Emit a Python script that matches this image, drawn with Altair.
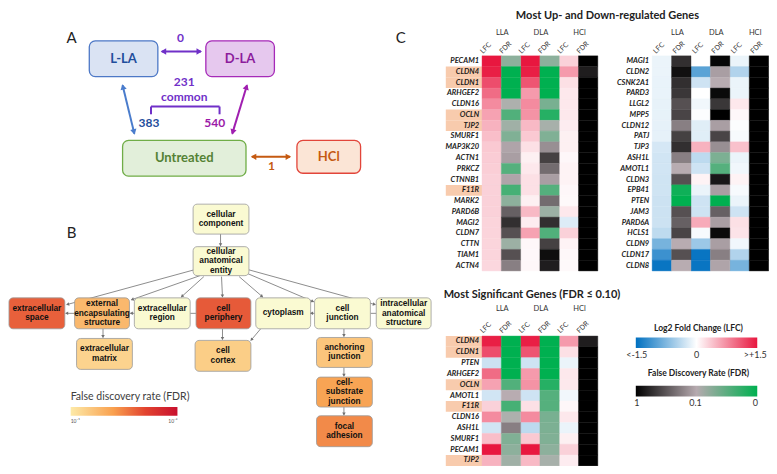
import math
import altair as alt
import pandas as pd

# ============================ DATA ============================
# Panel A: numbers of differentially expressed genes between conditions
A_NODES = ["L-LA", "D-LA", "Untreated", "HCl"]
DEG_LLA_DLA = 0
DEG_COMMON = 231
DEG_LLA_UNTREATED = 383
DEG_DLA_UNTREATED = 540
DEG_UNTREATED_HCL = 1

# Panel B: GO cellular-component terms, enrichment as -log10(FDR) (0 = not enriched)
GO_TERMS = ["cellular\ncomponent", "cellular\nanatomical\nentity", "extracellular\nspace",
            "external\nencapsulating\nstructure", "extracellular\nregion", "cell\nperiphery",
            "cytoplasm", "cell\njunction", "intracellular\nanatomical\nstructure",
            "extracellular\nmatrix", "cell\ncortex", "anchoring\njunction",
            "cell-\nsubstrate\njunction", "focal\nadhesion"]
GO_NEGLOG_FDR = [0, 0, 4.0, 2.35, 0, 4.1, 0, 0, 0, 1.6, 1.75, 2.0, 2.9, 3.35]
GO_LEGEND_TITLE = "False discovery rate (FDR)"
GO_LEGEND_LABELS = ["10⁻¹", "10⁻⁶"]

# Panel C: log2 fold change and FDR per gene and treatment
C_GROUPS = ["LLA", "DLA", "HCl"]
C_COLUMNS = ["LFC", "FDR", "LFC", "FDR", "LFC", "FDR"]
GENES = ["PECAM1", "CLDN4", "CLDN1", "ARHGEF2", "CLDN16", "OCLN", "TJP2", "SMURF1", "MAP3K20", "ACTN1",
         "PRKCZ", "CTNNB1", "F11R", "MARK2", "PARD6B", "MAGI2", "CLDN7", "CTTN", "TIAM1", "ACTN4",
         "MAGI1", "CLDN2", "CSNK2A1", "PARD3", "LLGL2", "MPP5", "CLDN12", "PATJ", "TJP3", "ASH1L",
         "AMOTL1", "CLDN3", "EPB41", "PTEN", "JAM3", "PARD6A", "HCLS1", "CLDN9", "CLDN17", "CLDN8"]
LLA_LFC = [1.5, 1.45, 1.15, 0.95, 0.75, 0.6, 0.5, 0.42, 0.35, 0.33,
           0.32, 0.3, 0.3, 0.3, 0.3, 0.28, 0.28, 0.27, 0.27, 0.26,
           -0.12, -0.12, -0.13, -0.13, -0.14, -0.14, -0.15, -0.15, -0.25, -0.27,
           -0.27, -0.28, -0.28, -0.3, -0.3, -0.3, -0.38, -0.8, -1.15, -1.45]
LLA_FDR = [0.075, 0.0, 0.0, 0.0, 0.092, 0.043, 0.085, 0.068, 0.16, 0.19,
           0.045, 0.16, 0.037, 0.075, 0.51, 0.76, 0.59, 0.083, 0.59, 0.35,
           0.76, 0.92, 0.76, 0.72, 0.59, 0.65, 0.35, 0.67, 0.76, 0.35,
           0.12, 0.59, 0.008, 0.0, 0.59, 0.51, 0.65, 0.12, 0.59, 0.12]
DLA_LFC = [1.5, 1.45, 1.1, 0.65, 0.75, 0.7, 0.45, 0.35, 0.2, 0.1,
           0.15, 0.2, 0.2, 0.1, 0.45, 0.12, 0.6, 0.05, 0.05, 0.05,
           0.0, -0.97, -0.29, 0.0, -0.08, -0.02, -0.18, -0.18, 0.5, -0.39,
           -0.29, 0.08, -0.12, -0.29, -0.29, 0.55, -0.05, -0.58, -1.45, -1.45]
DLA_FDR = [0.075, 0.0, 0.0, 0.0, 0.064, 0.02, 0.089, 0.068, 0.27, 0.67,
           0.45, 0.19, 0.045, 0.45, 0.083, 0.76, 0.043, 0.67, 0.93, 0.85,
           0.97, 0.19, 0.12, 0.95, 0.72, 1.0, 0.19, 0.65, 0.27, 0.066,
           0.045, 0.88, 0.19, 0.0, 0.51, 0.19, 0.95, 0.19, 0.35, 0.16]
HCL_LFC = [0.3, 0.65, 0.2, 0.15, 0.15, 0.15, 0.12, 0.1, 0.1, 0.05,
           0.08, 0.08, 0.05, 0.04, 0.15, -0.2, 0.3, 0.08, 0.05, 0.04,
           -0.12, -0.46, -0.12, -0.12, 0.15, 0.05, -0.02, -0.05, 0.4, -0.12,
           -0.08, 0.08, -0.05, -0.12, -0.29, 0.2, 0.18, -0.08, -0.46, -0.8]
HCL_FDR = [1, 0.85, 1, 1, 1, 1, 1, 1, 1, 1, 1, 1, 1, 1, 1, 1, 1, 1, 1, 1,
           1, 1, 1, 1, 1, 1, 1, 1, 1, 1, 1, 1, 1, 1, 1, 1, 1, 1, 1, 1]
GENES_UP = GENES[:20]
GENES_DOWN = GENES[20:]
GENES_SIG = ["CLDN4", "CLDN1", "PTEN", "ARHGEF2", "OCLN", "AMOTL1", "F11R", "CLDN16",
             "ASH1L", "SMURF1", "PECAM1", "TJP2"]
HIGHLIGHTED = ["CLDN4", "CLDN1", "OCLN", "TJP2", "F11R"]
TITLE_UPDOWN = "Most Up- and Down-regulated Genes"
TITLE_SIG = "Most Significant Genes (FDR ≤ 0.10)"
LFC_LEGEND_TITLE = "Log2 Fold Change (LFC)"
LFC_LEGEND_LABELS = ["<-1.5", "0", ">+1.5"]
FDR_LEGEND_TITLE = "False Discovery Rate (FDR)"
FDR_LEGEND_LABELS = ["1", "0.1", "0"]

# ============================ LAYOUT (pixel frame of the figure) ============================
FONT = "Lato"
FONT_B = "Liberation Sans"
XS = alt.Scale(domain=[0, 777], nice=False, zero=False)
YS = alt.Scale(domain=[0, 474], nice=False, zero=False, reverse=True)


def pos(**kw):
    return dict(x=alt.X("x:Q", scale=XS, axis=None), y=alt.Y("y:Q", scale=YS, axis=None), **kw)


def span(**kw):
    return dict(x=alt.X("x:Q", scale=XS, axis=None), x2=alt.X2("x2:Q"),
                y=alt.Y("y:Q", scale=YS, axis=None), y2=alt.Y2("y2:Q"), **kw)


def text_layer(rows, **mark):
    df = pd.DataFrame(rows, columns=["t", "x", "y", "c"])
    return alt.Chart(df).mark_text(**mark).encode(**pos(text="t:N", color=alt.Color("c:N", scale=None)))


def arrow_layers(segs, color, width, head_size, both=False):
    lines = pd.DataFrame([dict(x=s[0], y=s[1], x2=s[2], y2=s[3]) for s in segs])
    back = 0.42 * math.sqrt(head_size)
    heads = []
    for s in segs:
        a, b, c, d = s[:4]
        ends = []
        if len(s) < 5 or s[4]:
            ends.append((a, b, c, d))
        if both:
            ends.append((c, d, a, b))
        for sx, sy, ex, ey in ends:
            dx, dy = ex - sx, ey - sy
            ln = math.hypot(dx, dy) or 1.0
            heads.append(dict(x=ex - dx / ln * back, y=ey - dy / ln * back,
                              ang=(math.degrees(math.atan2(dx, -dy)) + 360) % 360))
    out = [alt.Chart(lines).mark_rule(color=color, strokeWidth=width).encode(**span())]
    if heads:
        out.append(alt.Chart(pd.DataFrame(heads)).mark_point(
            shape="triangle", filled=True, color=color, size=head_size, opacity=1, strokeWidth=0
        ).encode(**pos(angle=alt.Angle("ang:Q", scale=None))))
    return out


def gradient_bar(x, x2, y, y2, stops):
    g = {"gradient": "linear", "x1": 0, "x2": 1, "y1": 0, "y2": 0,
         "stops": [{"offset": o, "color": c} for c, o in stops]}
    return alt.Chart(pd.DataFrame([dict(x=x, x2=x2, y=y, y2=y2)])).mark_rect(fill=g).encode(**span())


layers = []

# ---------------- Panel A ----------------
VIOLET, BLUE, MAGENTA, ORANGE = "#7030c8", "#4a7ccc", "#a01fb0", "#c55a11"
a_box = pd.DataFrame(dict(
    name=A_NODES, x=[83, 202, 117, 295], x2=[153, 272, 243, 360], y=[34, 34, 137, 137], y2=[71, 71, 174, 171],
    fill=["#dae3f3", "#e6c8ee", "#e2efda", "#fbe5d6"],
    stroke=["#4d78c6", "#a62ab8", "#70ad47", "#e2453a"],
    tc=["#1f4e9c", "#8c1c9c", "#548235", "#c55a11"]))
layers.append(alt.Chart(a_box).mark_rect(cornerRadius=6, strokeWidth=1.3).encode(
    **span(fill=alt.Fill("fill:N", scale=None), stroke=alt.Stroke("stroke:N", scale=None))))
a_box["cx"] = (a_box.x + a_box.x2) / 2
a_box["cy"] = (a_box.y + a_box.y2) / 2
layers.append(text_layer(list(zip(a_box.name, a_box.cx, a_box.cy, a_box.tc)),
                         font=FONT, fontWeight="bold", fontSize=13))
layers += arrow_layers([(157, 45, 197, 45)], VIOLET, 2, 40, both=True)
layers += arrow_layers([(117, 80, 129, 130)], BLUE, 2, 40, both=True)
layers += arrow_layers([(244, 80, 229, 130)], MAGENTA, 2, 40, both=True)
layers += arrow_layers([(249, 154, 288, 154)], ORANGE, 2, 40, both=True)
layers += arrow_layers([(146, 110, 146, 102, False), (146, 102, 216, 102, False), (216, 102, 216, 110, False)],
                       VIOLET, 2, 40)
layers.append(text_layer([
    (str(DEG_LLA_DLA), 176, 31, VIOLET),
    (str(DEG_COMMON), 180, 77, VIOLET),
    ("common", 180, 92, VIOLET),
    (str(DEG_LLA_UNTREATED), 144, 119, "#1f4e9c"),
    (str(DEG_DLA_UNTREATED), 211, 119, "#9b1aa8"),
    (str(DEG_UNTREATED_HCL), 269, 164, ORANGE),
], font=FONT, fontWeight="bold", fontSize=12))
layers.append(text_layer([("A", 65, 31, "#222"), ("B", 65, 233, "#222"), ("C", 401, 31, "#222")],
                         font=FONT, fontSize=15))

# ---------------- Panel B ----------------
GO_LH = 9.5
go = pd.DataFrame(dict(
    term=GO_TERMS, v=GO_NEGLOG_FDR,
    x=[189, 189, 1, 68, 129, 192, 253, 313, 376, 70, 191, 315, 315, 315],
    x2=[246, 246, 58, 124, 186, 248, 309, 370, 432, 127, 248, 372, 372, 372],
    y=[203, 247, 300, 300, 300, 300, 300, 300, 300, 342, 344, 341, 382, 422],
    y2=[234, 277, 332, 332, 332, 332, 332, 332, 332, 374, 376, 372, 413, 454]))
go["cx"] = (go.x + go.x2) / 2
go["cy"] = (go.y + go.y2) / 2 - (go.term.str.count("\n")) * GO_LH / 2
GO_EDGES = [(217, 234, 217, 246), (190, 271, 60, 307), (196, 277, 126, 302), (200, 278, 177, 299),
            (218, 278, 219, 299), (236, 278, 260, 299), (245, 275, 312, 304), (246, 271, 375, 307),
            (130, 316, 125, 316), (68, 316, 59, 316), (192, 316, 186, 316, False), (314, 316, 309, 316),
            (376, 316, 370, 316, False), (97, 332, 97, 341), (219, 332, 219, 343), (258, 332, 248, 344),
            (343, 332, 343, 340), (343, 372, 343, 381), (343, 413, 343, 421)]
edge_layers = arrow_layers(GO_EDGES, "#707070", 0.8, 12)
layers.append(edge_layers[0])
GO_SCALE = alt.Scale(domain=[0, 0.99, 1, 3, 4.5, 6], interpolate="rgb",
                     range=["#fafad2", "#fafad2", "#fde9a8", "#f8a050", "#e04030", "#c8102e"])
layers.append(alt.Chart(go).mark_rect(cornerRadius=4, stroke="#9a9a9a", strokeWidth=0.8).encode(
    **span(color=alt.Color("v:Q", scale=GO_SCALE, legend=None))))
layers.append(edge_layers[1])
layers.append(text_layer([(t, x, y, "#111") for t, x, y in zip(go.term, go.cx, go.cy)],
                         font=FONT_B, fontWeight="bold", fontSize=8.3, lineBreak="\n", lineHeight=GO_LH))
layers.append(text_layer([(GO_LEGEND_TITLE, 64, 403, "#404040")], font=FONT, fontSize=10.5, align="left"))
layers.append(gradient_bar(64, 173, 413, 422, [("#fdeaa8", 0), ("#f9a04e", 0.4), ("#e2432f", 0.7), ("#c8102e", 1)]))
layers.append(text_layer([(GO_LEGEND_LABELS[0], 64, 427, "#555")], font=FONT, fontSize=5, align="left"))
layers.append(text_layer([(GO_LEGEND_LABELS[1], 173, 427, "#555")], font=FONT, fontSize=5, align="right"))

# ---------------- Panel C ----------------
LFC_SCALE = alt.Scale(domain=[-1.5, 0, 1.5], range=["#0070c0", "#ffffff", "#e8173f"], clamp=True, interpolate="rgb")
FDR_SCALE = alt.Scale(domain=[0, 0.1, 1], range=["#00b050", "#bcb0b5", "#000000"], clamp=True, interpolate="rgb")
VALUES = [LLA_LFC, LLA_FDR, DLA_LFC, DLA_FDR, HCL_LFC, HCL_FDR]


def heatmap(genes, x0, w, y0, h, head_y, sub_y, group_dx, sub_dx, highlight):
    rows = []
    for i, g in enumerate(genes):
        k = GENES.index(g)
        for j, kind in enumerate(C_COLUMNS):
            rows.append(dict(gene=g, kind=kind, v=VALUES[j][k],
                             x=x0 + j * w, x2=x0 + (j + 1) * w, y=y0 + i * h, y2=y0 + (i + 1) * h))
    df = pd.DataFrame(rows)
    out = []
    if highlight:
        hl = pd.DataFrame([dict(x=x0 - 37, x2=x0, y=y0 + i * h, y2=y0 + (i + 1) * h)
                           for i, g in enumerate(genes) if g in HIGHLIGHTED])
        out.append(alt.Chart(hl).mark_rect(color="#f8cbad").encode(**span()))
    for kind, sc in (("LFC", LFC_SCALE), ("FDR", FDR_SCALE)):
        out.append(alt.Chart(df).transform_filter(alt.datum.kind == kind).mark_rect(strokeWidth=0.4).encode(
            **span(color=alt.Color("v:Q", scale=sc, legend=None),
                   stroke=alt.Stroke("v:Q", scale=sc, legend=None))))
    out.append(text_layer([(g, x0 - 3, y0 + (i + 0.5) * h, "#1a1a1a") for i, g in enumerate(genes)],
                          font=FONT, fontWeight="bold", fontStyle="italic", fontSize=7.5, align="right"))
    out.append(text_layer([(grp, x0 + (2 * gi + 1) * w + group_dx, head_y, "#333")
                           for gi, grp in enumerate(C_GROUPS)], font=FONT, fontSize=7.5))
    out.append(text_layer([(c, x0 + j * w + sub_dx, sub_y, "#333") for j, c in enumerate(C_COLUMNS)],
                          font=FONT, fontSize=7, angle=315, align="left", baseline="alphabetic"))
    return out


layers += heatmap(GENES_UP, 484, 19.7, 49.5, 11.13, 26, 47.5, 1, 1, True)
layers += heatmap(GENES_DOWN, 657.7, 19.83, 49.5, 11.13, 26, 47.5, 6, 4, False)
layers += heatmap(GENES_SIG, 484, 19.7, 339.5, 11.2, 311, 337, 1, 1, True)
layers.append(text_layer([(TITLE_UPDOWN, 612, 8, "#222"), (TITLE_SIG, 535, 297, "#222")],
                         font=FONT, fontWeight="bold", fontSize=11))
layers.append(text_layer([(LFC_LEGEND_TITLE, 705, 331, "#222"), (FDR_LEGEND_TITLE, 705, 378, "#222")],
                         font=FONT, fontWeight="bold", fontSize=8.5))
layers.append(gradient_bar(641, 765, 341, 352, [("#0070c0", 0), ("#ffffff", 0.5), ("#e8173f", 1)]))
layers.append(gradient_bar(641, 765, 391, 402, [("#000000", 0), ("#b6aaaf", 0.5), ("#00b050", 1)]))
layers.append(text_layer(list(zip(LFC_LEGEND_LABELS, [642, 703, 763], [359, 359, 359], ["#333"] * 3)),
                         font=FONT, fontSize=9))
layers.append(text_layer(list(zip(FDR_LEGEND_LABELS, [642, 702, 763], [409, 409, 409], ["#333"] * 3)),
                         font=FONT, fontSize=9))

chart = alt.layer(*layers).resolve_scale(
    color="independent", fill="independent", stroke="independent"
).properties(width=761, height=458, padding=0, autosize="none", background="white").configure_view(stroke=None)

chart.save("out.html", embed_options={"renderer": "svg", "actions": False})
